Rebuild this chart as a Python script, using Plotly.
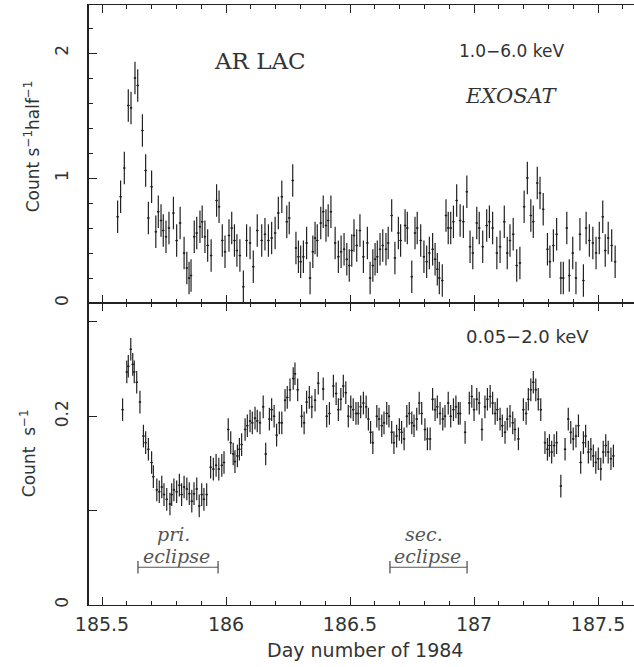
import plotly.graph_objects as go

# ---------------- data ----------------
# 1.0-6.0 keV (EXOSAT ME), count s^-1 half^-1
t_hard = [185.563, 185.575, 185.590, 185.606, 185.617, 185.633, 185.644, 185.663, 185.676, 185.687,
          185.700, 185.717, 185.727, 185.738, 185.747, 185.758, 185.770, 185.788, 185.801, 185.815,
          185.831, 185.842, 185.851, 185.859, 185.872, 185.882, 185.895, 185.904, 185.915, 185.926,
          185.940, 185.962, 185.972, 185.985, 185.996, 186.012, 186.023, 186.034, 186.044, 186.056,
          186.070, 186.083, 186.097, 186.110, 186.126, 186.144, 186.157, 186.171, 186.184, 186.198,
          186.211, 186.225, 186.245, 186.255, 186.269, 186.282, 186.292, 186.301, 186.312, 186.325,
          186.339, 186.350, 186.359, 186.368, 186.382, 186.392, 186.403, 186.412, 186.423, 186.440,
          186.453, 186.464, 186.476, 186.487, 186.497, 186.507, 186.516, 186.527, 186.540, 186.554,
          186.570, 186.581, 186.592, 186.601, 186.610, 186.621, 186.632, 186.645, 186.654, 186.668,
          186.681, 186.695, 186.704, 186.722, 186.731, 186.749, 186.762, 186.771, 186.785, 186.798,
          186.809, 186.820, 186.833, 186.843, 186.852, 186.860, 186.872, 186.887, 186.896, 186.906,
          186.917, 186.930, 186.944, 186.957, 186.971, 186.984, 186.995, 187.011, 187.021, 187.035,
          187.051, 187.062, 187.075, 187.092, 187.105, 187.122, 187.134, 187.145, 187.158, 187.172,
          187.185, 187.202, 187.215, 187.229, 187.239, 187.255, 187.266, 187.279, 187.296, 187.306,
          187.320, 187.333, 187.350, 187.360, 187.374, 187.384, 187.398, 187.411, 187.427, 187.441,
          187.452, 187.465, 187.479, 187.492, 187.505, 187.519, 187.529, 187.541, 187.555, 187.569]
rate_hard = [0.69, 0.85, 1.08, 1.58, 1.56, 1.80, 1.74, 1.38, 1.06, 0.68,
             0.93, 0.57, 0.73, 0.66, 0.58, 0.53, 0.60, 0.72, 0.50, 0.64,
             0.40, 0.28, 0.20, 0.22, 0.53, 0.56, 0.61, 0.65, 0.53, 0.46,
             0.38, 0.82, 0.77, 0.50, 0.41, 0.54, 0.60, 0.50, 0.42, 0.38,
             0.13, 0.50, 0.48, 0.29, 0.58, 0.50, 0.55, 0.50, 0.52, 0.56,
             0.72, 0.85, 0.65, 0.68, 0.98, 0.44, 0.37, 0.33, 0.37, 0.48,
             0.20, 0.41, 0.52, 0.50, 0.64, 0.73, 0.62, 0.66, 0.73, 0.48,
             0.37, 0.41, 0.43, 0.35, 0.30, 0.42, 0.54, 0.46, 0.58, 0.37,
             0.48, 0.20, 0.30, 0.35, 0.37, 0.43, 0.46, 0.43, 0.48, 0.70,
             0.36, 0.56, 0.50, 0.62, 0.60, 0.21, 0.56, 0.60, 0.50, 0.37,
             0.33, 0.40, 0.43, 0.35, 0.27, 0.20, 0.18, 0.70, 0.60, 0.60,
             0.65, 0.82, 0.66, 0.65, 0.89, 0.45, 0.40, 0.64, 0.60, 0.45,
             0.62, 0.65, 0.60, 0.40, 0.45, 0.65, 0.40, 0.50, 0.55, 0.30,
             0.32, 0.77, 1.00, 0.70, 0.65, 0.96, 0.88, 0.75, 0.43, 0.33,
             0.46, 0.55, 0.20, 0.20, 0.60, 0.22, 0.40, 0.20, 0.55, 0.18,
             0.60, 0.50, 0.48, 0.40, 0.52, 0.69, 0.42, 0.52, 0.46, 0.33]
err_hard = 0.13

# 0.05-2.0 keV (EXOSAT LE), count s^-1
t_soft = [185.583, 185.600, 185.606, 185.616, 185.624, 185.630, 185.640, 185.653, 185.667, 185.676,
          185.687, 185.700, 185.707, 185.721, 185.731, 185.741, 185.750, 185.761, 185.774, 185.781,
          185.790, 185.801, 185.812, 185.821, 185.831, 185.842, 185.852, 185.862, 185.871, 185.882,
          185.892, 185.902, 185.911, 185.922, 185.938, 185.949, 185.960, 185.971, 185.983, 185.992,
          186.009, 186.019, 186.029, 186.036, 186.046, 186.054, 186.063, 186.077, 186.086, 186.097,
          186.106, 186.117, 186.126, 186.137, 186.150, 186.160, 186.175, 186.184, 186.194, 186.204,
          186.215, 186.225, 186.238, 186.247, 186.258, 186.271, 186.278, 186.289, 186.305, 186.315,
          186.325, 186.336, 186.346, 186.359, 186.372, 186.392, 186.406, 186.417, 186.433, 186.444,
          186.453, 186.463, 186.473, 186.483, 186.493, 186.503, 186.513, 186.524, 186.533, 186.543,
          186.554, 186.565, 186.574, 186.583, 186.592, 186.608, 186.617, 186.628, 186.637, 186.648,
          186.657, 186.668, 186.677, 186.688, 186.699, 186.708, 186.718, 186.729, 186.739, 186.749,
          186.758, 186.769, 186.779, 186.789, 186.802, 186.812, 186.823, 186.833, 186.843, 186.852,
          186.863, 186.874, 186.883, 186.896, 186.906, 186.917, 186.927, 186.937, 186.944, 186.964,
          186.981, 186.991, 187.000, 187.011, 187.021, 187.032, 187.044, 187.054, 187.065, 187.075,
          187.085, 187.094, 187.105, 187.114, 187.125, 187.134, 187.145, 187.156, 187.165, 187.179,
          187.199, 187.210, 187.219, 187.229, 187.239, 187.249, 187.259, 187.269, 187.286, 187.296,
          187.304, 187.313, 187.323, 187.333, 187.350, 187.367, 187.380, 187.390, 187.400, 187.411,
          187.421, 187.430, 187.441, 187.450, 187.461, 187.471, 187.481, 187.491, 187.501, 187.511,
          187.521, 187.531, 187.541, 187.552, 187.562]
rate_soft = [0.207, 0.247, 0.253, 0.271, 0.255, 0.247, 0.236, 0.215, 0.179, 0.172,
             0.165, 0.151, 0.136, 0.122, 0.120, 0.125, 0.117, 0.112, 0.107, 0.117,
             0.122, 0.120, 0.127, 0.117, 0.125, 0.123, 0.118, 0.110, 0.118, 0.123,
             0.105, 0.117, 0.112, 0.117, 0.146, 0.144, 0.148, 0.144, 0.148, 0.151,
             0.186, 0.172, 0.160, 0.152, 0.158, 0.165, 0.170, 0.186, 0.190, 0.195,
             0.193, 0.198, 0.195, 0.193, 0.210, 0.160, 0.197, 0.207, 0.200, 0.180,
             0.193, 0.193, 0.217, 0.220, 0.228, 0.240, 0.245, 0.228, 0.200, 0.193,
             0.215, 0.220, 0.210, 0.217, 0.235, 0.229, 0.200, 0.203, 0.232, 0.224,
             0.207, 0.218, 0.232, 0.225, 0.200, 0.210, 0.207, 0.203, 0.203, 0.210,
             0.214, 0.210, 0.197, 0.183, 0.172, 0.200, 0.197, 0.190, 0.193, 0.203,
             0.200, 0.183, 0.172, 0.179, 0.186, 0.183, 0.176, 0.200, 0.203, 0.193,
             0.190, 0.197, 0.214, 0.203, 0.186, 0.176, 0.176, 0.218, 0.207, 0.210,
             0.203, 0.197, 0.200, 0.214, 0.200, 0.207, 0.210, 0.203, 0.203, 0.183,
             0.214, 0.221, 0.207, 0.218, 0.214, 0.186, 0.210, 0.218, 0.221, 0.214,
             0.203, 0.207, 0.197, 0.190, 0.183, 0.197, 0.200, 0.193, 0.186, 0.176,
             0.207, 0.203, 0.218, 0.228, 0.236, 0.228, 0.218, 0.207, 0.172, 0.165,
             0.169, 0.162, 0.169, 0.172, 0.126, 0.165, 0.197, 0.183, 0.176, 0.179,
             0.190, 0.151, 0.172, 0.179, 0.162, 0.165, 0.158, 0.151, 0.155, 0.144,
             0.162, 0.169, 0.162, 0.155, 0.158]
err_soft = 0.012
half_bin = 0.005

# eclipse intervals
ecl_names = ["pri.", "sec."]
ecl_start = [185.645, 186.661]
ecl_end = [185.968, 186.972]
ecl_level = 0.040

x_ticks = [185.5, 186, 186.5, 187, 187.5]
x_ticktext = ["185.5", "186", "186.5", "187", "187.5"]
soft_ticks = [0, 0.1, 0.2, 0.3]
soft_ticktext = ["0", "", "0.2", ""]
hard_ticks = [0, 1, 2]
hard_ticktext = ["0", "1", "2"]

# ---------------- figure ----------------
INK = "#222222"
TXT = "#333333"
GREY = "#555555"
sans = "DejaVu Sans, Liberation Sans, sans-serif"
serif = "DejaVu Serif, Liberation Serif, serif"

fig = go.Figure()

fig.add_trace(go.Scatter(
    x=t_hard, y=rate_hard, mode="markers", xaxis="x2", yaxis="y2",
    marker=dict(size=2, color=INK),
    error_y=dict(type="constant", value=err_hard, thickness=1.2, width=0, color=INK),
    error_x=dict(type="constant", value=half_bin, thickness=1, width=0, color=INK),
    showlegend=False, hoverinfo="skip"))

fig.add_trace(go.Scatter(
    x=t_soft, y=rate_soft, mode="markers", xaxis="x", yaxis="y",
    marker=dict(size=2, color=INK),
    error_y=dict(type="constant", value=err_soft, thickness=1.2, width=0, color=INK),
    error_x=dict(type="constant", value=half_bin, thickness=1, width=0, color=INK),
    showlegend=False, hoverinfo="skip"))

for name, s, e in zip(ecl_names, ecl_start, ecl_end):
    fig.add_trace(go.Scatter(
        x=[s, e], y=[ecl_level, ecl_level], mode="lines+markers", xaxis="x", yaxis="y",
        line=dict(color=GREY, width=1.2),
        marker=dict(symbol="line-ns-open", size=9, line=dict(color=GREY, width=1.3)),
        showlegend=False, hoverinfo="skip"))
    mid = (s + e) / 2
    fig.add_annotation(x=mid - 0.02, y=0.075, xref="x", yref="y", text="<i>" + name + "</i>",
                       showarrow=False, xanchor="center", yanchor="middle",
                       font=dict(family=serif, size=19, color=GREY))
    fig.add_annotation(x=mid - 0.005, y=0.052, xref="x", yref="y", text="<i>eclipse</i>",
                       showarrow=False, xanchor="center", yanchor="middle",
                       font=dict(family=serif, size=19, color=GREY))

xrange = [185.4476, 187.645]
common_x = dict(range=xrange, showline=True, linecolor=INK, linewidth=1.3, mirror="allticks",
                ticks="inside", ticklen=8, tickwidth=1.2, tickcolor=INK,
                tickmode="array", tickvals=x_ticks, ticktext=x_ticktext,
                minor=dict(ticks="inside", ticklen=4, tickwidth=1, tickcolor=INK, dtick=0.1, tick0=185.5),
                showgrid=False, zeroline=False, automargin=False)

fig.update_layout(
    width=634, height=667,
    margin=dict(l=89, r=0, t=5, b=62, autoexpand=False),
    paper_bgcolor="white", plot_bgcolor="white",
    xaxis=dict(**common_x, anchor="y", domain=[0, 1],
               tickfont=dict(family=sans, size=19, color=TXT), ticklabelstandoff=2),
    xaxis2=dict(**common_x, anchor="y2", domain=[0, 1], matches="x", showticklabels=False),
    yaxis=dict(domain=[0, 0.5033], range=[0, 0.32], anchor="x", automargin=False,
               showline=True, linecolor=INK, linewidth=1.6, ticks="inside", ticklen=8,
               tickwidth=1.2, tickcolor=INK, tickmode="array", tickvals=soft_ticks,
               ticktext=soft_ticktext, tickangle=-90, showgrid=False, zeroline=False,
               tickfont=dict(family=sans, size=17, color=TXT), ticklabelstandoff=12),
    yaxis2=dict(domain=[0.5033, 1], range=[0, 2.384], anchor="x2", automargin=False,
                showline=True, linecolor=INK, linewidth=1.6, ticks="inside", ticklen=8,
                tickwidth=1.2, tickcolor=INK, tickmode="array", tickvals=hard_ticks,
                ticktext=hard_ticktext, tickangle=-90,
                minor=dict(ticks="inside", ticklen=4, tickwidth=1, tickcolor=INK, dtick=0.2, tick0=0),
                showgrid=False, zeroline=False,
                tickfont=dict(family=sans, size=17, color=TXT), ticklabelstandoff=12),
)

# panel texts
fig.add_annotation(x=186.137, y=1.94, xref="x2", yref="y2", text="AR LAC", showarrow=False,
                   xanchor="center", yanchor="middle",
                   font=dict(family=serif, size=23, color=TXT))
fig.add_annotation(x=187.153, y=2.02, xref="x2", yref="y2", text="1.0\u22126.0 keV", showarrow=False,
                   xanchor="center", yanchor="middle",
                   font=dict(family=sans, size=17, color=TXT))
fig.add_annotation(x=187.153, y=1.66, xref="x2", yref="y2", text="<i>EXOSAT</i>", showarrow=False,
                   xanchor="center", yanchor="middle",
                   font=dict(family=serif, size=21, color=TXT))
fig.add_annotation(x=187.214, y=0.284, xref="x", yref="y", text="0.05\u22122.0 keV", showarrow=False,
                   xanchor="center", yanchor="middle",
                   font=dict(family=sans, size=18, color=TXT))

# axis titles
fig.add_annotation(x=-0.104, y=0.765, xref="paper", yref="paper", textangle=-90, showarrow=False,
                   xanchor="center", yanchor="middle",
                   text="Count s<sup>\u22121</sup>half<sup>\u22121</sup>",
                   font=dict(family=sans, size=17, color=TXT))
fig.add_annotation(x=-0.112, y=0.253, xref="paper", yref="paper", textangle=-90, showarrow=False,
                   xanchor="center", yanchor="middle",
                   text="Count  s<sup>\u22121</sup>",
                   font=dict(family=sans, size=17, color=TXT))
fig.add_annotation(x=0.506, y=-0.075, xref="paper", yref="paper", showarrow=False,
                   xanchor="center", yanchor="middle",
                   text="Day number of 1984",
                   font=dict(family=sans, size=19, color=TXT))

fig.write_html("out.html", config={"displayModeBar": False},
               post_script="document.body.style.margin='0px';")
